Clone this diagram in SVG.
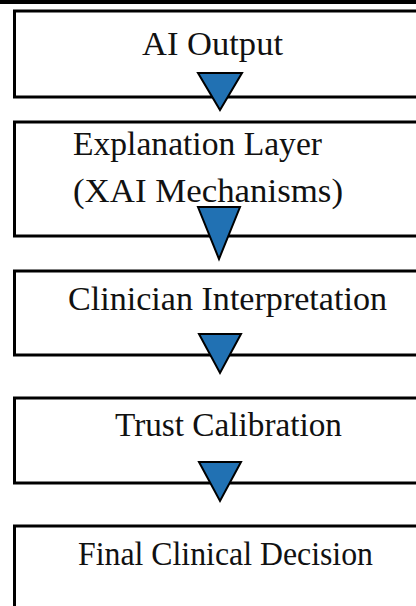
<svg xmlns="http://www.w3.org/2000/svg" width="416" height="606" viewBox="0 0 416 606">
  <style>
    .box { fill: #ffffff; stroke: #000000; stroke-width: 3; }
    .lbl { font-family: "Liberation Serif", "DejaVu Serif", "Times New Roman", serif; font-size: 33px; fill: #111111; }
    .tri { fill: #2171b3; stroke: #000000; stroke-width: 2; stroke-linejoin: miter; }
  </style>
  <rect x="0" y="0" width="416" height="606" fill="#ffffff"/>
  <rect x="0" y="0" width="416" height="4" fill="#000000"/>
  <g id="node-ai-output">
    <rect class="box" x="14.5" y="11" width="420" height="86"/>
    <text class="lbl" x="142" y="55" textLength="141" lengthAdjust="spacingAndGlyphs">AI Output</text>
  </g>
  <g id="node-explanation-layer">
    <rect class="box" x="14.5" y="122" width="420" height="114"/>
    <text class="lbl" x="73" y="155" textLength="249" lengthAdjust="spacingAndGlyphs">Explanation  Layer</text>
    <text class="lbl" x="73" y="202" textLength="270" lengthAdjust="spacingAndGlyphs">(XAI Mechanisms)</text>
  </g>
  <g id="node-clinician-interpretation">
    <rect class="box" x="14.5" y="271" width="420" height="84"/>
    <text class="lbl" x="68" y="310" textLength="319" lengthAdjust="spacingAndGlyphs">Clinician  Interpretation</text>
  </g>
  <g id="node-trust-calibration">
    <rect class="box" x="14.5" y="398" width="420" height="85"/>
    <text class="lbl" x="115" y="436" textLength="227" lengthAdjust="spacingAndGlyphs">Trust Calibration</text>
  </g>
  <g id="node-final-decision">
    <rect class="box" x="14.5" y="526" width="420" height="100"/>
    <text class="lbl" x="78" y="565" textLength="295" lengthAdjust="spacingAndGlyphs">Final Clinical Decision</text>
  </g>
  <g id="connectors">
    <polygon class="tri" points="198,73 242,73 220,110"/>
    <polygon class="tri" points="198,207 240,207 219,259"/>
    <polygon class="tri" points="199,334 241,334 220,373"/>
    <polygon class="tri" points="199,462 241,462 220,501"/>
  </g>
</svg>
